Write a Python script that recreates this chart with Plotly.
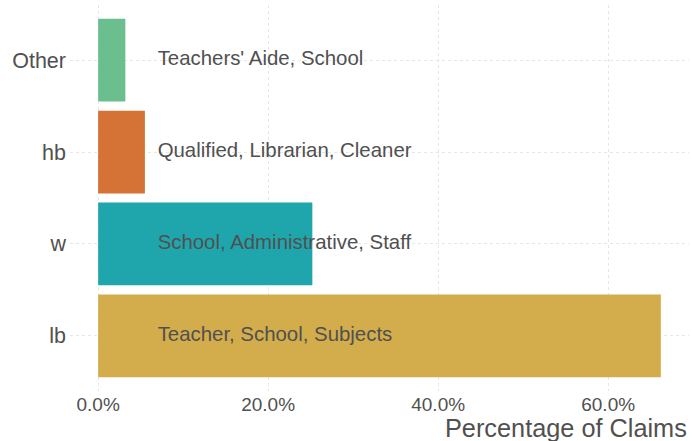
import plotly.graph_objects as go

categories = ["lb", "w", "hb", "Other"]
values = [0.662, 0.252, 0.055, 0.032]
labels = ["Teacher, School, Subjects", "School, Administrative, Staff",
          "Qualified, Librarian, Cleaner", "Teachers' Aide, School"]
colors = ["#D3AC4B", "#1FA6AC", "#D57236", "#6BBF8E"]
tick_vals = [0.0, 0.2, 0.4, 0.6]
label_x = 0.07

fig = go.Figure()
fig.add_trace(go.Bar(
    y=categories, x=values, orientation="h",
    marker=dict(color=colors, line=dict(width=0)),
    width=0.9, showlegend=False, hoverinfo="skip",
))
fig.add_trace(go.Scatter(
    y=categories, x=[label_x] * len(categories), mode="text",
    text=labels, textposition="middle right",
    textfont=dict(family="Liberation Sans", size=20.4, color="#505050"),
    showlegend=False, hoverinfo="skip",
))

rng_pad = 0.05 * max(values)
fig.update_layout(
    width=692, height=441,
    margin=dict(l=70, r=3, t=5, b=50),
    plot_bgcolor="white", paper_bgcolor="white",
    font=dict(family="Liberation Sans", color="#505050"),
    xaxis=dict(
        range=[-rng_pad, max(values) + rng_pad],
        tickvals=tick_vals, tickformat=".1%",
        tickfont=dict(size=19, color="#505050"),
        showgrid=True, gridcolor="#E6E6E6", griddash="3px,3px", gridwidth=1,
        zeroline=False, showline=False, ticks="",
    ),
    yaxis=dict(
        categoryorder="array", categoryarray=categories,
        range=[-0.6, 3.6],
        tickfont=dict(size=21.5, color="#505050"),
        showgrid=True, gridcolor="#E6E6E6", griddash="3px,3px", gridwidth=1,
        zeroline=False, showline=False, ticks="", ticklabelstandoff=3,
    ),
    annotations=[dict(
        text="Percentage of Claims", xref="paper", yref="paper",
        x=1, y=0, xanchor="right", yanchor="middle", yshift=-37,
        showarrow=False, font=dict(size=25.3, color="#505050"),
    )],
)
fig.write_html("out.html", config={"displayModeBar": False},
               post_script="document.body.style.margin='0';")
